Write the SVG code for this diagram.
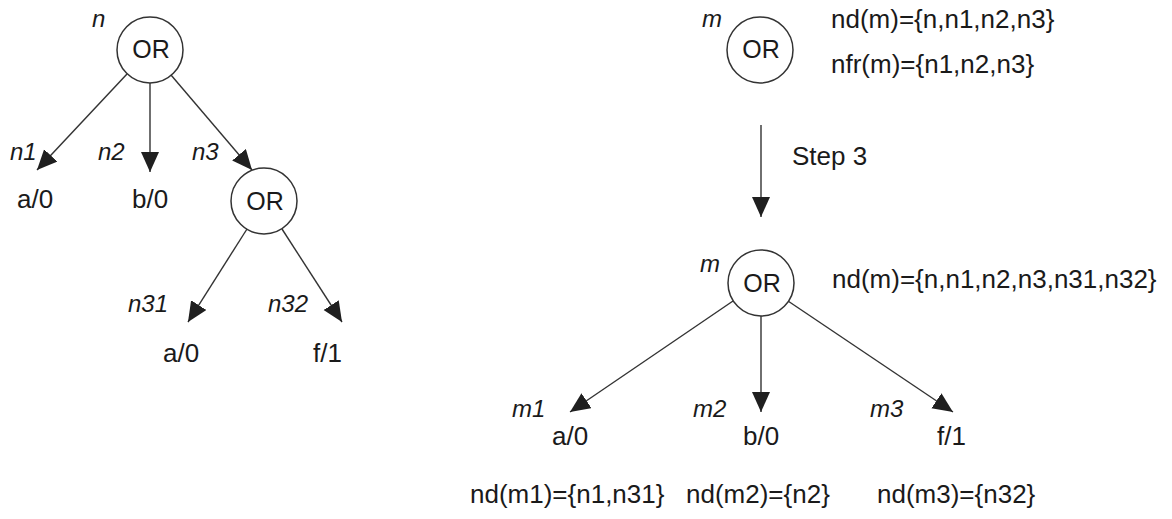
<svg xmlns="http://www.w3.org/2000/svg" width="1172" height="519" viewBox="0 0 1172 519">
  <style>
    .lbl { font-family: "Liberation Sans", Arial, sans-serif; font-size: 26px; fill: #1a1a1a; }
    .nm { font-family: "Liberation Sans", Arial, sans-serif; font-size: 24px; font-style: italic; fill: #1a1a1a; }
    .op { font-family: "Liberation Sans", Arial, sans-serif; font-size: 25px; fill: #1a1a1a; text-anchor: middle; }
    .node { fill: #ffffff; stroke: #333333; stroke-width: 1.5; }
    .edge { stroke: #333333; stroke-width: 1.4; fill: none; marker-end: url(#head); }
  </style>
  <defs>
    <marker id="head" markerUnits="userSpaceOnUse" markerWidth="22" markerHeight="20" refX="20" refY="9" orient="auto">
      <path d="M0,0 L20,9 L0,18 z" fill="#1f1f1f"/>
    </marker>
  </defs>
  <rect width="1172" height="519" fill="#ffffff"/>

  <!-- connectors -->
  <g id="connectors">
    <line class="edge" x1="127" y1="74" x2="37" y2="170"/>
    <line class="edge" x1="150" y1="82" x2="150" y2="172"/>
    <line class="edge" x1="171" y1="75" x2="252" y2="170"/>
    <line class="edge" x1="247" y1="229" x2="188" y2="322"/>
    <line class="edge" x1="282" y1="229" x2="342" y2="322"/>
    <line class="edge" x1="761" y1="125" x2="761" y2="217"/>
    <line class="edge" x1="733" y1="301" x2="570" y2="412"/>
    <line class="edge" x1="761" y1="316" x2="761" y2="412"/>
    <line class="edge" x1="788" y1="301" x2="953" y2="412"/>
  </g>

  <!-- left tree -->
  <g id="node-n">
    <circle class="node" cx="150" cy="50" r="33"/>
    <text class="op" x="151" y="58">OR</text>
    <text class="nm" x="92" y="27">n</text>
  </g>
  <g id="node-n1">
    <text class="nm" x="10" y="160">n1</text>
    <text class="lbl" x="17" y="208">a/0</text>
  </g>
  <g id="node-n2">
    <text class="nm" x="98" y="160">n2</text>
    <text class="lbl" x="132" y="208">b/0</text>
  </g>
  <g id="node-n3">
    <text class="nm" x="192" y="160">n3</text>
    <circle class="node" cx="264" cy="201" r="33"/>
    <text class="op" x="265" y="210">OR</text>
  </g>
  <g id="node-n31">
    <text class="nm" x="128" y="312">n31</text>
    <text class="lbl" x="163" y="362">a/0</text>
  </g>
  <g id="node-n32">
    <text class="nm" x="268" y="312">n32</text>
    <text class="lbl" x="313" y="362">f/1</text>
  </g>

  <!-- right: before step 3 -->
  <g id="node-m-before">
    <circle class="node" cx="760" cy="50" r="33"/>
    <text class="op" x="761" y="58">OR</text>
    <text class="nm" x="702" y="27">m</text>
    <text class="lbl" x="831" y="28">nd(m)={n,n1,n2,n3}</text>
    <text class="lbl" x="831" y="73">nfr(m)={n1,n2,n3}</text>
  </g>
  <g id="step-label">
    <text class="lbl" x="792" y="165">Step 3</text>
  </g>

  <!-- right: after step 3 -->
  <g id="node-m-after">
    <circle class="node" cx="761" cy="283" r="33"/>
    <text class="op" x="762" y="292">OR</text>
    <text class="nm" x="700" y="272">m</text>
    <text class="lbl" x="832" y="288">nd(m)={n,n1,n2,n3,n31,n32}</text>
  </g>
  <g id="node-m1">
    <text class="nm" x="512" y="417">m1</text>
    <text class="lbl" x="552" y="445">a/0</text>
    <text class="lbl" x="470" y="503">nd(m1)={n1,n31}</text>
  </g>
  <g id="node-m2">
    <text class="nm" x="693" y="417">m2</text>
    <text class="lbl" x="743" y="445">b/0</text>
    <text class="lbl" x="686" y="503">nd(m2)={n2}</text>
  </g>
  <g id="node-m3">
    <text class="nm" x="870" y="417">m3</text>
    <text class="lbl" x="937" y="445">f/1</text>
    <text class="lbl" x="877" y="503">nd(m3)={n32}</text>
  </g>
</svg>
